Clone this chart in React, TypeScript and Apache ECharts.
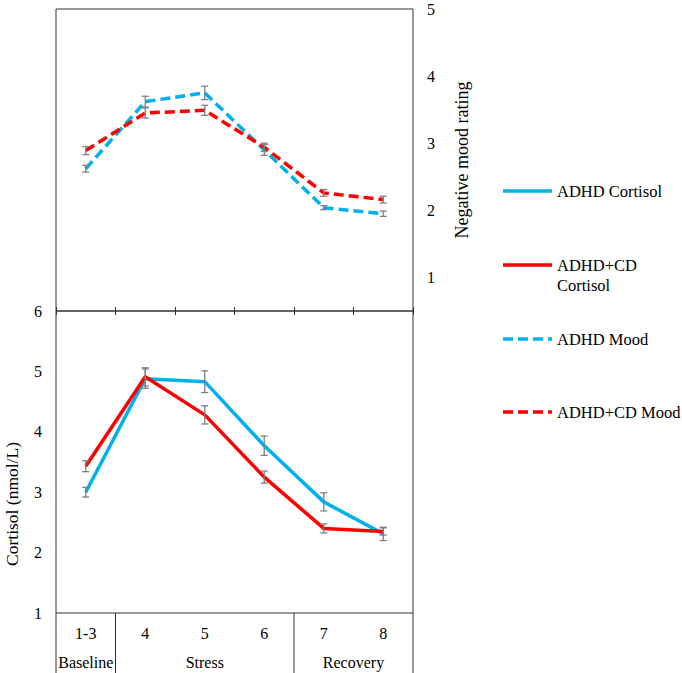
import React, { useEffect, useRef } from "react";
import * as echarts from "echarts";

const categories = ["1-3", "4", "5", "6", "7", "8"];
const groupNames = ["Baseline", "Stress", "Recovery"];
const groupStart = [0, 1, 4];
const groupEnd = [1, 4, 6];

const adhdCortisol = [3.0, 4.88, 4.83, 3.77, 2.84, 2.31];
const adhdCortisolErr = [0.08, 0.16, 0.18, 0.16, 0.15, 0.11];
const cdCortisol = [3.43, 4.91, 4.28, 3.25, 2.4, 2.35];
const cdCortisolErr = [0.09, 0.15, 0.15, 0.1, 0.075, 0.06];

const adhdMood = [2.62, 3.62, 3.75, 2.9, 2.04, 1.95];
const adhdMoodErr = [0.05, 0.08, 0.1, 0.08, 0.03, 0.04];
const cdMood = [2.89, 3.45, 3.49, 2.94, 2.26, 2.16];
const cdMoodErr = [0.06, 0.075, 0.075, 0.06, 0.05, 0.05];

const legendNames = ["ADHD Cortisol", "ADHD+CD\nCortisol", "ADHD Mood", "ADHD+CD Mood"];

const BLUE = "#00B0F0";
const RED = "#FF0000";
const FONT = "Liberation Serif";

const GL = 56;
const GW = 357;
const TOP1 = 9;
const H = 302;
const TOP2 = TOP1 + H;
const BOT = TOP2 + H;

function errRows(vals: number[], errs: number[]) {
  return vals.map((v, i) => [i, v - errs[i], v + errs[i]]);
}

function renderErr(params: any, api: any) {
  const x = api.value(0);
  const lo = api.coord([x, api.value(1)]);
  const hi = api.coord([x, api.value(2)]);
  const w = 3.5;
  const style = { stroke: "#7f7f7f", lineWidth: 1.3 };
  return {
    type: "group",
    children: [
      { type: "line", shape: { x1: lo[0], y1: lo[1], x2: hi[0], y2: hi[1] }, style },
      { type: "line", shape: { x1: lo[0] - w, y1: lo[1], x2: lo[0] + w, y2: lo[1] }, style },
      { type: "line", shape: { x1: hi[0] - w, y1: hi[1], x2: hi[0] + w, y2: hi[1] }, style },
    ],
  };
}

function txt(text: string, size: number, extra: any = {}) {
  return {
    text,
    fontFamily: FONT,
    fontSize: size,
    fill: "#000",
    textAlign: "center",
    textVerticalAlign: "middle",
    ...extra,
  };
}

export default function App() {
  const ref = useRef<HTMLDivElement>(null);
  useEffect(() => {
    if (!ref.current) return;
    const chart = echarts.init(ref.current, null, { renderer: "svg" });
    const cw = GW / categories.length;
    const graphic: any[] = [];
    const seps = [0, ...groupEnd];
    seps.forEach((c) => {
      graphic.push({
        type: "line",
        shape: { x1: GL + c * cw, y1: BOT, x2: GL + c * cw, y2: 673 },
        style: { stroke: "#333", lineWidth: 1 },
      });
    });
    groupNames.forEach((g, i) => {
      graphic.push({
        type: "text",
        x: GL + ((groupStart[i] + groupEnd[i]) / 2) * cw,
        y: 662,
        style: txt(g, 16),
      });
    });
    graphic.push({
      type: "text",
      x: 12,
      y: 504,
      rotation: Math.PI / 2,
      style: txt("Cortisol (nmol/L)", 17.5),
    });
    graphic.push({
      type: "text",
      x: 462,
      y: 160,
      rotation: Math.PI / 2,
      style: txt("Negative mood rating", 18),
    });
    const legendColors = [BLUE, RED, BLUE, RED];
    const legendDash = [false, false, true, true];
    const legendY = [191, 265, 339, 412];
    legendNames.forEach((n, i) => {
      graphic.push({
        type: "line",
        shape: { x1: 503, y1: legendY[i], x2: 552, y2: legendY[i] },
        style: { stroke: legendColors[i], lineWidth: 3.5, lineDash: legendDash[i] ? [10, 5] : null },
      });
      graphic.push({
        type: "text",
        x: 557,
        y: legendY[i] - 10,
        style: txt(n, 16.5, { textAlign: "left", textVerticalAlign: "top", lineHeight: 20 }),
      });
    });

    const axisLabelFont = { fontFamily: FONT, fontSize: 16, color: "#000" };

    chart.setOption({
      animation: false,
      grid: [
        { left: GL, top: TOP1, width: GW, height: H, show: true, borderColor: "#333", borderWidth: 1, containLabel: false, outerBoundsMode: "none" },
        { left: GL, top: TOP2, width: GW, height: H, show: true, borderColor: "#333", borderWidth: 1, containLabel: false, outerBoundsMode: "none" },
      ],
      xAxis: [
        {
          type: "category", gridIndex: 0, data: categories, position: "bottom", boundaryGap: true,
          axisLine: { show: false }, axisLabel: { show: false },
          axisTick: { show: true, inside: true, length: 4, lineStyle: { color: "#333" } },
          splitLine: { show: false },
        },
        {
          type: "category", gridIndex: 1, data: categories, position: "bottom", boundaryGap: true,
          axisLine: { show: false }, axisTick: { show: false },
          axisLabel: { ...axisLabelFont, margin: 12 },
          splitLine: { show: false },
        },
        {
          type: "category", gridIndex: 1, data: categories, position: "top", boundaryGap: true,
          axisLine: { show: false }, axisLabel: { show: false },
          axisTick: { show: true, inside: true, length: 4, lineStyle: { color: "#333" } },
          splitLine: { show: false },
        },
      ],
      yAxis: [
        {
          type: "value", gridIndex: 0, position: "right", min: 0.5, max: 5, interval: 0.5,
          axisLine: { show: false }, axisTick: { show: false }, splitLine: { show: false },
          axisLabel: {
            ...axisLabelFont, margin: 14,
            formatter: (v: number) => (Math.abs(v - Math.round(v)) < 1e-6 ? String(Math.round(v)) : ""),
          },
        },
        {
          type: "value", gridIndex: 1, position: "left", min: 1, max: 6, interval: 1,
          axisLine: { show: false }, axisTick: { show: false }, splitLine: { show: false },
          axisLabel: { ...axisLabelFont, margin: 14 },
        },
      ],
      series: [
        {
          name: "ADHD Mood", type: "line", xAxisIndex: 0, yAxisIndex: 0, data: adhdMood,
          symbol: "none", lineStyle: { color: BLUE, width: 3.5, type: [10, 5] }, z: 2,
        },
        {
          name: "ADHD+CD Mood", type: "line", xAxisIndex: 0, yAxisIndex: 0, data: cdMood,
          symbol: "none", lineStyle: { color: RED, width: 3.5, type: [10, 5] }, z: 2,
        },
        {
          name: "ADHD Cortisol", type: "line", xAxisIndex: 1, yAxisIndex: 1, data: adhdCortisol,
          symbol: "none", lineStyle: { color: BLUE, width: 3.5 }, z: 2,
        },
        {
          name: "ADHD+CD Cortisol", type: "line", xAxisIndex: 1, yAxisIndex: 1, data: cdCortisol,
          symbol: "none", lineStyle: { color: RED, width: 3.5 }, z: 3,
        },
        {
          type: "custom", xAxisIndex: 0, yAxisIndex: 0, renderItem: renderErr, z: 5,
          encode: { x: 0, y: [1, 2] },
          data: [...errRows(adhdMood, adhdMoodErr), ...errRows(cdMood, cdMoodErr)],
        },
        {
          type: "custom", xAxisIndex: 1, yAxisIndex: 1, renderItem: renderErr, z: 5,
          encode: { x: 0, y: [1, 2] },
          data: [...errRows(adhdCortisol, adhdCortisolErr), ...errRows(cdCortisol, cdCortisolErr)],
        },
      ],
      graphic,
    });
    return () => chart.dispose();
  }, []);
  return (
    <div
      ref={ref}
      style={{ position: "fixed", left: 0, top: 0, width: 682, height: 673, background: "#fff" }}
    />
  );
}
